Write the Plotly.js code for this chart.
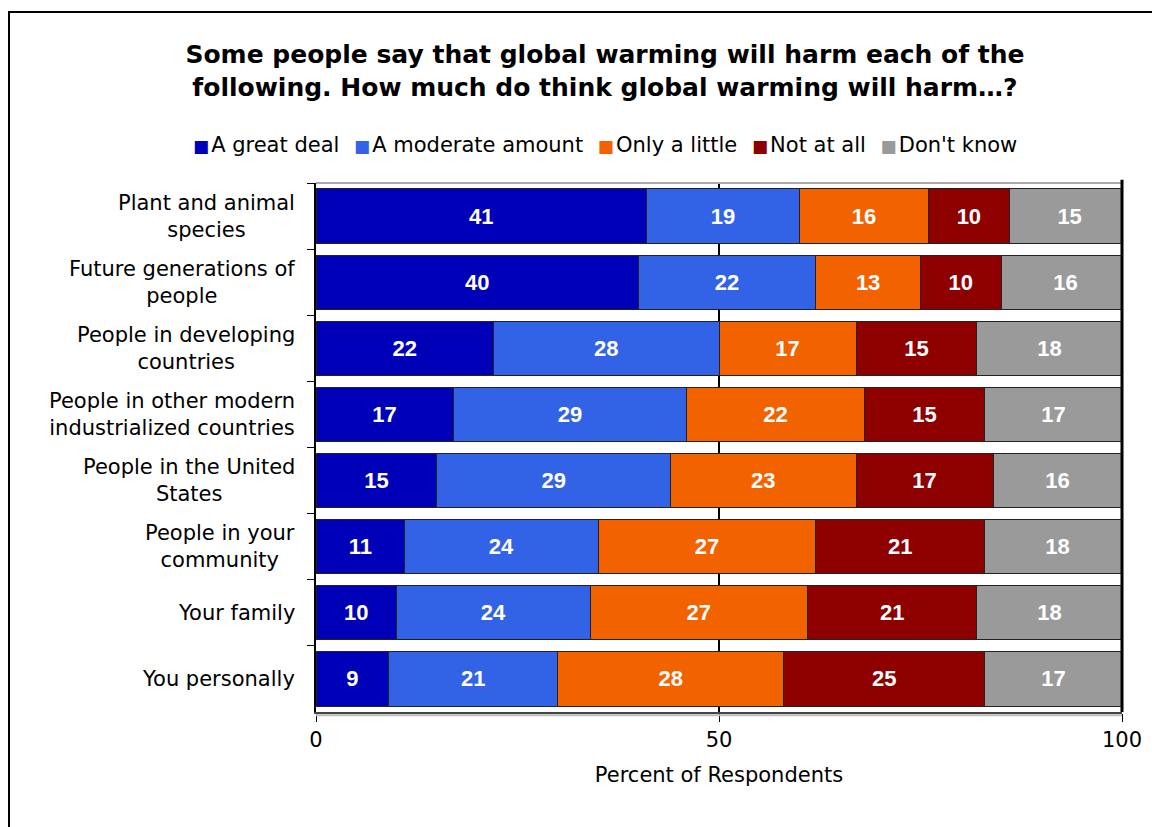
<!DOCTYPE html>
<html>
<head>
<meta charset="utf-8">
<script src="https://cdn.plot.ly/plotly-3.0.1.min.js"></script>
<style>
  html, body { margin: 0; padding: 0; background: #fff; }
  #wrap { position: relative; width: 1152px; height: 827px; overflow: hidden; }
  #chart { position: absolute; left: 0; top: 0; width: 1152px; height: 827px; }
  #frame { position: absolute; left: 8px; top: 11px; width: 1160px; height: 840px; border: 2px solid #000; box-sizing: border-box; pointer-events: none; }
</style>
</head>
<body>
<div id="wrap">
  <div id="chart"></div>
  <div id="frame"></div>
</div>
<script>
const categories = [
  "Plant and animal<br>species",
  "Future generations of<br>people",
  "People in developing<br>countries",
  "People in other modern<br>industrialized countries",
  "People in the United<br>States",
  "People in your<br>community",
  "Your family",
  "You personally"
];
const seriesNames = ["A great deal", "A moderate amount", "Only a little", "Not at all", "Don't know"];
const greatDeal   = [41, 40, 22, 17, 15, 11, 10, 9];
const moderate    = [19, 22, 28, 29, 29, 24, 24, 21];
const onlyLittle  = [16, 13, 17, 22, 23, 27, 27, 28];
const notAtAll    = [10, 10, 15, 15, 17, 21, 21, 25];
const dontKnow    = [15, 16, 18, 17, 16, 18, 18, 17];
const xTicks = [0, 50, 100];

const seriesValues = [greatDeal, moderate, onlyLittle, notAtAll, dontKnow];
const colors = ["#0000B8", "#3263E6", "#F26300", "#8E0000", "#9A9A9A"];
const FONT = "DejaVu Sans, Verdana, sans-serif";
const BARFONT = "Liberation Sans, Arial, sans-serif";

// plot area in pixels (for placing paper-referenced text)
const PL = 316, PR = 1122, PT = 183, PB = 712;
const px2paperX = px => (px - PL) / (PR - PL);
const px2paperY = py => (PB - py) / (PB - PT);

const traces = seriesValues.map((vals, i) => ({
  type: "bar",
  orientation: "h",
  name: seriesNames[i],
  y: categories,
  x: vals,
  width: 0.82,
  marker: { color: colors[i], line: { color: "#222", width: 1 } },
  text: vals.map(String),
  texttemplate: "%{text}",
  textposition: "inside",
  insidetextanchor: "middle",
  textangle: 0,
  constraintext: "none",
  textfont: { family: BARFONT, size: 22, color: "#fff", weight: "bold" },
  hoverinfo: "x+name",
  showlegend: false
}));

const annotations = categories.map(c => ({
  xref: "paper", yref: "y",
  x: 0, y: c,
  xanchor: "right", yanchor: "middle",
  xshift: -19,
  align: "center",
  showarrow: false,
  text: c,
  font: { family: FONT, size: 21, color: "#000" }
}));

annotations.push({
  xref: "paper", yref: "paper",
  x: px2paperX(605), y: px2paperY(145),
  xanchor: "center", yanchor: "middle",
  showarrow: false,
  text: seriesNames.map((n, i) =>
    `<span style="color:${colors[i]};font-size:17px">\u25A0</span>\u200A${n}`).join("\u2002\u2009"),
  font: { family: FONT, size: 21, color: "#000" }
});

const layout = {
  width: 1152,
  height: 827,
  barmode: "stack",
  paper_bgcolor: "#fff",
  plot_bgcolor: "#fff",
  margin: { l: PL, r: 1152 - PR, t: PT, b: 827 - PB },
  font: { family: FONT, size: 21, color: "#000" },
  title: {
    text: "<b>Some people say that global warming will harm each of the<br>following. How much do think global warming will harm…?</b>",
    font: { family: FONT, size: 25, color: "#000" },
    x: 605 / 1152, xref: "container", xanchor: "center",
    y: 1 - 63 / 827, yref: "container", yanchor: "middle"
  },
  showlegend: false,
  xaxis: {
    range: [0, 100],
    tickvals: xTicks,
    ticktext: xTicks.map(String),
    showgrid: true,
    gridcolor: "#000",
    gridwidth: 2,
    zeroline: false,
    showline: true,
    linecolor: "#444",
    linewidth: 2,
    ticks: "outside",
    ticklen: 8,
    tickcolor: "#000",
    tickfont: { family: FONT, size: 21, color: "#000" },
    title: { text: "Percent of Respondents", font: { family: FONT, size: 21, color: "#000" }, standoff: 16 },
    fixedrange: true
  },
  yaxis: {
    type: "category",
    autorange: "reversed",
    showline: true,
    linecolor: "#000",
    linewidth: 2,
    ticks: "outside",
    tickson: "boundaries",
    ticklen: 7,
    tickcolor: "#000",
    showgrid: false,
    showticklabels: false,
    fixedrange: true
  },
  annotations: annotations,
  shapes: [
    { type: "line", xref: "paper", yref: "paper", x0: 0, x1: 1, y0: 1, y1: 1, line: { color: "#aaa", width: 2 } },
    { type: "line", xref: "paper", yref: "paper", x0: 0, x1: 1, y0: -0.006, y1: -0.006, line: { color: "#bbb", width: 2 } },
    { type: "line", xref: "paper", yref: "paper", x0: 1, x1: 1, y0: 0, y1: 1.006, line: { color: "#000", width: 3 }, layer: "above" }
  ]
};

Plotly.newPlot("chart", traces, layout, { displayModeBar: false, staticPlot: true });
</script>
</body>
</html>
